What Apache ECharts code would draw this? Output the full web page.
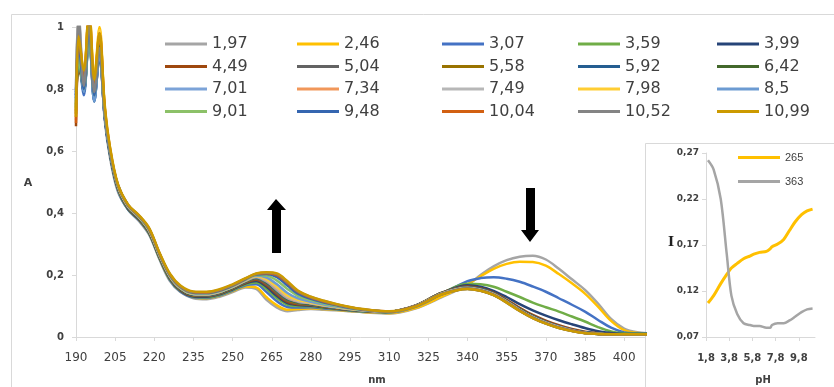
<!DOCTYPE html>
<html><head><meta charset="utf-8">
<script src="https://cdn.jsdelivr.net/npm/echarts@6/dist/echarts.min.js"></script>
<style>html,body{margin:0;padding:0;background:#fff}#c{width:834px;height:387px}</style>
</head><body><div id="c"></div>
<script>
// wavelengths (nm)
const wl = [190,191,193,195,197,199,201,203,206,210,214,218,222,226,230,235,240,245,250,255,259,263,267,271,275,280,285,290,295,300,310,320,330,340,345,350,355,360,365,370,375,380,385,390,395,400,405,410];
const seriesNames = ['1,97','2,46','3,07','3,59','3,99','4,49','5,04','5,58','5,92','6,42','7,01','7,34','7,49','7,98','8,5','9,01','9,48','10,04','10,52','10,99'];
const seriesColors = ['#A5A5A5','#FFC000','#4472C4','#70AD47','#264478','#9E480E','#636363','#997300','#255E91','#43682B','#7CA3D8','#F1975A','#B7B7B7','#FFCD33','#6C9BD2','#8CC168','#3566B0','#D26012','#848484','#CC9A00'];
const s1_97 = [0.80,1.05,0.82,1.02,0.80,0.93,0.70,0.58,0.47,0.41,0.375,0.33,0.25,0.18,0.145,0.125,0.122,0.13,0.145,0.16,0.155,0.12,0.095,0.083,0.087,0.09,0.088,0.086,0.083,0.08,0.076,0.092,0.128,0.168,0.2,0.228,0.248,0.259,0.262,0.25,0.22,0.186,0.152,0.108,0.058,0.027,0.015,0.012];
const s2_46 = [0.72,0.95,0.86,1.06,0.84,1.0,0.74,0.6,0.48,0.415,0.38,0.335,0.255,0.185,0.148,0.128,0.125,0.133,0.148,0.163,0.16,0.128,0.102,0.088,0.09,0.093,0.09,0.087,0.084,0.081,0.077,0.093,0.13,0.17,0.196,0.22,0.236,0.243,0.242,0.23,0.203,0.173,0.14,0.098,0.052,0.022,0.013,0.012];
const s3_07 = [0.76,0.9,0.78,0.98,0.76,0.92,0.71,0.59,0.475,0.41,0.378,0.333,0.253,0.184,0.147,0.128,0.126,0.134,0.15,0.167,0.17,0.145,0.115,0.097,0.095,0.096,0.092,0.089,0.085,0.082,0.079,0.097,0.138,0.18,0.19,0.193,0.188,0.178,0.163,0.146,0.125,0.104,0.082,0.055,0.03,0.015,0.012,0.011];
const s3_59 = [0.74,0.88,0.8,0.96,0.79,0.94,0.72,0.59,0.478,0.412,0.38,0.335,0.255,0.186,0.149,0.13,0.128,0.136,0.152,0.17,0.176,0.155,0.125,0.104,0.1,0.099,0.094,0.09,0.086,0.083,0.08,0.099,0.14,0.172,0.17,0.162,0.146,0.129,0.111,0.096,0.082,0.066,0.05,0.032,0.018,0.012,0.011,0.01];
const s3_99 = [0.78,0.92,0.79,0.99,0.77,0.9,0.71,0.59,0.48,0.413,0.381,0.337,0.257,0.188,0.15,0.131,0.13,0.138,0.154,0.173,0.181,0.162,0.132,0.109,0.103,0.101,0.096,0.091,0.087,0.084,0.081,0.1,0.141,0.167,0.162,0.149,0.129,0.106,0.086,0.069,0.054,0.041,0.029,0.019,0.013,0.01,0.01,0.01];
const s4_49 = [0.68,0.86,0.83,1.03,0.8,0.96,0.73,0.6,0.482,0.415,0.382,0.338,0.258,0.19,0.152,0.133,0.132,0.14,0.156,0.175,0.185,0.167,0.138,0.113,0.106,0.103,0.097,0.092,0.088,0.085,0.082,0.101,0.142,0.163,0.157,0.143,0.12,0.094,0.071,0.053,0.038,0.026,0.017,0.012,0.01,0.009,0.009,0.009];
const s5_04 = [0.75,0.93,0.81,1.0,0.78,0.92,0.72,0.595,0.483,0.416,0.383,0.339,0.259,0.191,0.153,0.134,0.133,0.141,0.157,0.177,0.188,0.171,0.142,0.117,0.108,0.104,0.098,0.093,0.088,0.085,0.082,0.101,0.142,0.161,0.155,0.141,0.117,0.09,0.067,0.049,0.034,0.023,0.015,0.011,0.009,0.009,0.009,0.009];
const s5_58 = [0.73,0.97,0.8,1.04,0.79,0.95,0.72,0.6,0.485,0.418,0.384,0.34,0.26,0.192,0.154,0.135,0.134,0.142,0.158,0.178,0.19,0.174,0.146,0.12,0.11,0.105,0.099,0.093,0.089,0.085,0.082,0.101,0.142,0.16,0.154,0.14,0.116,0.089,0.066,0.048,0.033,0.022,0.014,0.01,0.009,0.009,0.009,0.009];
const s5_92 = [0.77,0.91,0.79,0.97,0.76,0.91,0.71,0.595,0.485,0.418,0.385,0.341,0.261,0.193,0.155,0.136,0.135,0.143,0.159,0.179,0.191,0.176,0.148,0.122,0.112,0.106,0.1,0.094,0.089,0.086,0.082,0.101,0.141,0.16,0.155,0.141,0.117,0.09,0.067,0.049,0.034,0.023,0.015,0.011,0.01,0.009,0.009,0.009];
const s6_42 = [0.72,0.89,0.82,1.01,0.8,0.94,0.72,0.6,0.486,0.419,0.386,0.342,0.262,0.194,0.156,0.137,0.136,0.144,0.16,0.18,0.192,0.178,0.15,0.124,0.113,0.107,0.1,0.095,0.09,0.086,0.082,0.1,0.14,0.159,0.154,0.14,0.116,0.089,0.066,0.048,0.033,0.022,0.014,0.01,0.009,0.009,0.009,0.009];
const s7_01 = [0.79,0.94,0.8,0.99,0.77,0.92,0.72,0.6,0.487,0.42,0.387,0.343,0.263,0.195,0.157,0.138,0.137,0.145,0.161,0.181,0.193,0.179,0.151,0.125,0.114,0.108,0.101,0.095,0.09,0.086,0.082,0.1,0.14,0.159,0.153,0.139,0.115,0.088,0.065,0.047,0.033,0.022,0.014,0.01,0.009,0.009,0.009,0.009];
const s7_34 = [0.7,0.99,0.84,1.05,0.82,0.97,0.73,0.6,0.488,0.421,0.388,0.344,0.264,0.196,0.158,0.139,0.138,0.146,0.162,0.182,0.195,0.182,0.155,0.128,0.116,0.109,0.102,0.096,0.09,0.086,0.082,0.1,0.14,0.158,0.152,0.138,0.114,0.087,0.064,0.046,0.032,0.021,0.013,0.01,0.009,0.009,0.009,0.009];
const s7_49 = [0.8,1.04,0.81,1.0,0.79,0.93,0.72,0.6,0.488,0.421,0.388,0.344,0.264,0.196,0.158,0.139,0.138,0.146,0.162,0.183,0.196,0.184,0.158,0.13,0.117,0.11,0.102,0.096,0.09,0.086,0.081,0.099,0.139,0.157,0.151,0.137,0.113,0.086,0.063,0.045,0.031,0.02,0.013,0.01,0.009,0.009,0.009,0.009];
const s7_98 = [0.71,0.96,0.85,1.06,0.83,0.99,0.74,0.61,0.49,0.422,0.389,0.345,0.265,0.197,0.159,0.14,0.139,0.147,0.163,0.184,0.197,0.187,0.162,0.134,0.12,0.111,0.103,0.097,0.091,0.087,0.082,0.099,0.139,0.157,0.151,0.137,0.113,0.086,0.063,0.045,0.031,0.02,0.013,0.01,0.009,0.009,0.009,0.009];
const s8_50 = [0.77,0.92,0.79,0.98,0.76,0.91,0.72,0.6,0.49,0.423,0.39,0.346,0.266,0.198,0.16,0.141,0.14,0.148,0.164,0.185,0.198,0.192,0.17,0.142,0.125,0.114,0.105,0.098,0.092,0.087,0.082,0.099,0.139,0.157,0.151,0.137,0.113,0.086,0.063,0.045,0.031,0.02,0.013,0.01,0.009,0.009,0.009,0.009];
const s9_01 = [0.74,0.9,0.8,0.97,0.78,0.93,0.72,0.6,0.49,0.423,0.39,0.347,0.267,0.199,0.161,0.142,0.141,0.149,0.165,0.186,0.2,0.198,0.182,0.155,0.133,0.119,0.108,0.1,0.093,0.088,0.082,0.099,0.138,0.156,0.15,0.136,0.112,0.085,0.062,0.044,0.03,0.02,0.013,0.01,0.009,0.009,0.009,0.009];
const s9_48 = [0.78,0.95,0.8,1.0,0.78,0.93,0.73,0.6,0.491,0.424,0.391,0.348,0.268,0.2,0.162,0.143,0.142,0.15,0.166,0.187,0.202,0.203,0.193,0.166,0.14,0.123,0.111,0.102,0.094,0.088,0.082,0.099,0.138,0.156,0.15,0.136,0.112,0.085,0.062,0.044,0.03,0.02,0.013,0.01,0.009,0.009,0.009,0.009];
const s10_04 = [0.69,0.98,0.84,1.05,0.82,0.98,0.74,0.61,0.492,0.425,0.392,0.349,0.269,0.201,0.163,0.144,0.143,0.151,0.167,0.188,0.203,0.206,0.2,0.175,0.146,0.127,0.114,0.104,0.095,0.089,0.082,0.099,0.138,0.156,0.15,0.136,0.112,0.085,0.062,0.044,0.03,0.02,0.013,0.01,0.009,0.009,0.009,0.009];
const s10_52 = [0.79,1.03,0.81,1.01,0.79,0.93,0.72,0.6,0.492,0.425,0.392,0.35,0.27,0.202,0.164,0.145,0.144,0.152,0.168,0.189,0.203,0.207,0.203,0.178,0.148,0.129,0.116,0.105,0.096,0.089,0.082,0.098,0.137,0.155,0.149,0.135,0.111,0.084,0.061,0.043,0.029,0.019,0.012,0.01,0.009,0.009,0.009,0.009];
const s10_99 = [0.71,0.97,0.86,1.06,0.83,0.98,0.75,0.615,0.495,0.427,0.394,0.352,0.272,0.204,0.166,0.147,0.146,0.154,0.17,0.19,0.205,0.209,0.205,0.18,0.15,0.13,0.117,0.106,0.097,0.09,0.083,0.098,0.137,0.155,0.149,0.135,0.111,0.084,0.061,0.043,0.029,0.019,0.012,0.01,0.009,0.009,0.009,0.009];
const spectra = [s1_97,s2_46,s3_07,s3_59,s3_99,s4_49,s5_04,s5_58,s5_92,s6_42,s7_01,s7_34,s7_49,s7_98,s8_50,s9_01,s9_48,s10_04,s10_52,s10_99];
const xTicks = [190,205,220,235,250,265,280,295,310,325,340,355,370,385,400];
const yTicks = [0,0.2,0.4,0.6,0.8,1];

// inset
const pH = [1.97,2.46,3.07,3.59,3.99,4.49,5.04,5.58,5.92,6.42,7.01,7.34,7.49,7.98,8.5,9.01,9.48,10.04,10.52,10.99];
const i265 = [0.107,0.115,0.128,0.138,0.145,0.150,0.155,0.158,0.160,0.162,0.163,0.166,0.168,0.171,0.176,0.186,0.195,0.203,0.207,0.209];
const i363 = [0.262,0.252,0.220,0.160,0.115,0.095,0.085,0.083,0.082,0.082,0.080,0.080,0.083,0.085,0.085,0.088,0.092,0.097,0.100,0.101];
const insetX = [1.8,3.8,5.8,7.8,9.8];
const insetY = [0.07,0.12,0.17,0.22,0.27];

const chart = echarts.init(document.getElementById('c'), null, {renderer:'canvas'});
const axisGray = '#D9D9D9';
const F = 'DejaVu Sans';

const mainSeries = spectra.map((arr,i)=>({
  name: seriesNames[i], type:'line', xAxisIndex:0, yAxisIndex:0,
  data: wl.map((w,k)=>[w,arr[k]]), showSymbol:false, symbol:'none',
  smooth:0.35, clip:true, lineStyle:{width:2.5,color:seriesColors[i]}, itemStyle:{color:seriesColors[i]}, z:2
}));
const colX = [165,297,442,578,717];
const rowY = [44,66.5,89,111.5];
const legends = seriesNames.map((n,i)=>({
  data:[n], left: colX[i%5], top: rowY[Math.floor(i/5)]-8, padding:0,
  itemWidth:42, itemHeight:3, icon:'rect', selectedMode:false,
  textStyle:{fontFamily:F,fontSize:16,color:'#404040'}
}));
const insetNames = ['265','363'];
insetNames.forEach((n,i)=>legends.push({
  data:[n], left:738, top:[157,181][i]-5, padding:0, itemWidth:42, itemHeight:3, icon:'rect',
  selectedMode:false, z:8, textStyle:{fontFamily:'Liberation Sans',fontSize:11,color:'#404040'}
}));

const option = {
  animation:false, backgroundColor:'#fff',
  legend: legends,
  grid:[
    {left:76, right:189, top:27, bottom:50},
    {left:706, right:19, top:153, bottom:50, z:5}
  ],
  xAxis:[
    {type:'value', gridIndex:0, min:190, max:408, splitLine:{show:false},
     axisLine:{lineStyle:{color:axisGray,width:1}}, axisTick:{show:true,length:4,lineStyle:{color:axisGray},customValues:xTicks},
     axisLabel:{customValues:xTicks, margin:15, fontFamily:F, fontSize:12, color:'#404040'}},
    {type:'value', gridIndex:1, min:1.8, max:11.2, splitLine:{show:false}, z:5,
     axisLine:{lineStyle:{color:axisGray}}, axisTick:{show:true,length:4,lineStyle:{color:axisGray},customValues:insetX},
     axisLabel:{customValues:insetX, margin:16, fontFamily:F, fontSize:10, fontWeight:'bold', color:'#404040',
       formatter:v=>v.toFixed(1).replace('.',',')}}
  ],
  yAxis:[
    {type:'value', gridIndex:0, min:0, max:1, splitLine:{show:false},
     axisLine:{show:true,lineStyle:{color:axisGray}}, axisTick:{show:true,length:4,lineStyle:{color:axisGray},customValues:yTicks},
     axisLabel:{customValues:yTicks, margin:12, fontFamily:F, fontSize:10, fontWeight:'bold', color:'#404040',
       formatter:v=>(Math.round(v*10)/10).toString().replace('.',',')}},
    {type:'value', gridIndex:1, min:0.07, max:0.27, splitLine:{show:false}, z:5,
     axisLine:{show:true,lineStyle:{color:axisGray}}, axisTick:{show:true,length:4,lineStyle:{color:axisGray},customValues:insetY},
     axisLabel:{customValues:insetY, margin:7, fontFamily:F, fontSize:9, fontWeight:'bold', color:'#404040',
       formatter:v=>(Math.round(v*100)/100).toFixed(2).replace('.',',')}}
  ],
  graphic:{elements:[
    {type:'rect', left:9, top:12, shape:{width:900,height:500}, style:{fill:'none',stroke:axisGray,lineWidth:1}, z:0, silent:true},
    {type:'rect', left:645, top:143, shape:{width:300,height:300}, style:{fill:'#fff',stroke:axisGray,lineWidth:1}, z:1, silent:true},
    {type:'polygon', shape:{points:[[276,199],[286,210],[281,210],[281,253],[272,253],[272,210],[267,210]]}, style:{fill:'#000'}, z:10},
    {type:'polygon', shape:{points:[[530,242],[539,230],[535,230],[535,188],[526,188],[526,230],[521,230]]}, style:{fill:'#000'}, z:10},
    {type:'text', x:28, y:183, style:{text:'A', font:'bold 11px "DejaVu Sans"', fill:'#404040', textAlign:'center', textVerticalAlign:'middle'}, z:10},
    {type:'text', x:377, y:380, style:{text:'nm', font:'bold 10px "DejaVu Sans"', fill:'#404040', textAlign:'center', textVerticalAlign:'middle'}, z:10},
    {type:'text', x:671, y:243, style:{text:'I', font:'bold 13px "DejaVu Serif"', fill:'#202020', textAlign:'center', textVerticalAlign:'middle'}, z:10},
    {type:'text', x:763, y:380, style:{text:'pH', font:'bold 10px "DejaVu Sans"', fill:'#404040', textAlign:'center', textVerticalAlign:'middle'}, z:10}
  ]},
  series: mainSeries.concat([
    {name:'265', type:'line', xAxisIndex:1, yAxisIndex:1, data:pH.map((p,k)=>[p,i265[k]]), showSymbol:false, symbol:'none', smooth:0.3, lineStyle:{width:3,color:'#FFC000'}, itemStyle:{color:'#FFC000'}, z:6},
    {name:'363', type:'line', xAxisIndex:1, yAxisIndex:1, data:pH.map((p,k)=>[p,i363[k]]), showSymbol:false, symbol:'none', smooth:0.3, lineStyle:{width:2.5,color:'#A5A5A5'}, itemStyle:{color:'#A5A5A5'}, z:6}
  ])
};
chart.setOption(option);
</script></body></html>
